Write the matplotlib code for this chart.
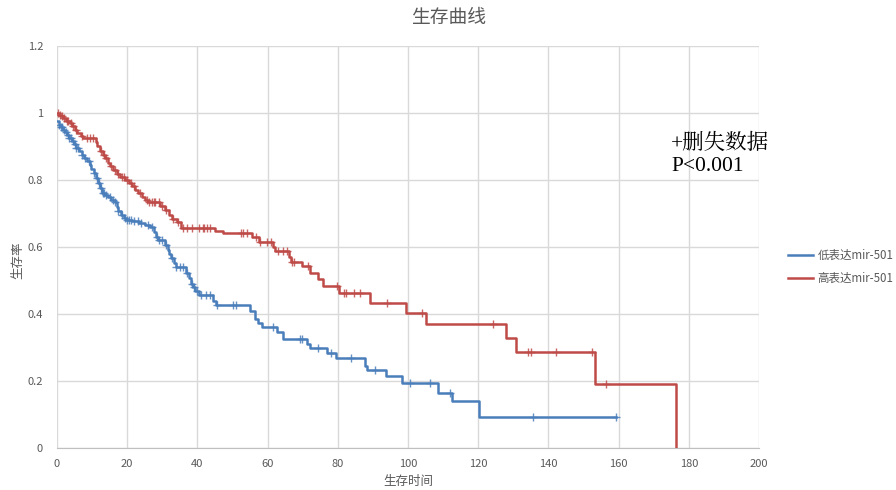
import numpy as np
import matplotlib
matplotlib.use("Agg")
import matplotlib.pyplot as plt

plt.rcParams['font.family'] = ['Noto Sans CJK SC', 'DejaVu Sans']

title = "生存曲线"
xlabel = "生存时间"
ylabel = "生存率"
series_names = ["低表达mir-501", "高表达mir-501"]
annotation = "+删失数据\nP<0.001"

x_ticks = [0, 20, 40, 60, 80, 100, 120, 140, 160, 180, 200]
y_ticks = [0, 0.2, 0.4, 0.6, 0.8, 1.0, 1.2]
y_tick_labels = ["0", "0.2", "0.4", "0.6", "0.8", "1", "1.2"]

# Low expression (blue) step curve: event times and survival after event
low_t = [0, 0.5, 1.0, 1.6, 2.2, 2.8, 3.5, 4.2, 4.8, 5.5, 6.2, 7.0, 7.8, 8.5, 9.3, 9.8,
         10.5, 11.2, 11.8, 12.3, 12.8, 13.6, 14.5, 15.5, 16.5, 17.0, 17.5, 18.2, 19.0,
         19.8, 21.5, 23.5, 25.0, 26.5, 27.6, 28.2, 28.8, 30.7, 31.5, 32.0, 32.5, 33.3,
         33.8, 36.7, 37.6, 38.2, 38.8, 39.4, 40.4, 44.5, 45.2, 55.0, 56.3, 57.3, 58.3,
         62.8, 64.3, 71.1, 72.2, 77.0, 79.4, 87.7, 88.2, 93.7, 98.2, 108.5, 112.6,
         120.1, 159.3]
low_s = [0.975, 0.965, 0.958, 0.950, 0.942, 0.933, 0.925, 0.915, 0.907, 0.897, 0.886,
         0.876, 0.866, 0.856, 0.846, 0.833, 0.821, 0.806, 0.792, 0.776, 0.762, 0.755,
         0.748, 0.740, 0.733, 0.720, 0.706, 0.697, 0.688, 0.682, 0.677, 0.672, 0.667,
         0.660, 0.646, 0.630, 0.620, 0.606, 0.590, 0.578, 0.566, 0.552, 0.540, 0.523,
         0.506, 0.490, 0.480, 0.470, 0.458, 0.440, 0.428, 0.408, 0.385, 0.372, 0.360,
         0.347, 0.325, 0.311, 0.298, 0.285, 0.270, 0.245, 0.234, 0.214, 0.195, 0.165,
         0.139, 0.093, 0.093]
low_censor = [0.5, 1, 1.5, 2, 2.5, 3, 3.5, 4, 4.5, 5, 5.5, 6, 7, 8, 9, 10.5, 11.5, 12,
              12.5, 13, 13.5, 14, 15, 16, 16.5, 17.5, 18.5, 19.5, 20, 20.5, 21, 22, 23,
              24, 26, 27, 28.5, 29, 30, 31, 32.8, 34, 35, 36, 37, 38.5, 39, 40, 41, 42.5,
              43.5, 45.5, 50, 51, 61.5, 69.2, 69.7, 74.5, 78, 83.7, 90.7, 100.7, 106.4,
              112, 135.7, 159.2]

# High expression (red) step curve
high_t = [0, 0.5, 1.0, 1.7, 2.5, 3.6, 4.3, 5.0, 5.8, 6.9, 7.5, 11.0, 11.5, 12.2, 13.0,
          13.7, 14.5, 15.1, 16.0, 17.0, 18.0, 19.4, 20.5, 21.3, 22.3, 23.2, 24.2, 25.1,
          26.0, 29.3, 30.8, 31.8, 32.7, 34.1, 35.2, 45.0, 47.4, 55.5, 57.5, 61.6, 62.1,
          66.2, 66.6, 69.7, 72.1, 74.5, 75.9, 80.4, 89.3, 99.4, 105.0, 128.0, 130.8,
          153.4, 176.3]
high_s = [1.0, 0.995, 0.990, 0.984, 0.977, 0.969, 0.960, 0.950, 0.940, 0.930, 0.925,
          0.912, 0.900, 0.888, 0.876, 0.865, 0.852, 0.842, 0.830, 0.817, 0.808, 0.800,
          0.790, 0.782, 0.770, 0.760, 0.750, 0.741, 0.734, 0.722, 0.710, 0.697, 0.684,
          0.675, 0.658, 0.649, 0.641, 0.630, 0.615, 0.600, 0.589, 0.571, 0.556, 0.543,
          0.523, 0.503, 0.484, 0.462, 0.434, 0.404, 0.370, 0.329, 0.288, 0.192, 0.0]
high_censor = [0.3, 0.8, 1.3, 2, 2.8, 3.2, 4, 4.6, 5.5, 7.2, 8.5, 9.5, 10.3, 12.5, 13.3,
               14, 15.5, 16.5, 17.5, 18.5, 19, 20, 21, 22, 23.7, 25.5, 26.3, 27, 27.5,
               28, 29, 30, 31, 33, 34.5, 35.8, 37, 38.5, 40.5, 41.5, 42, 42.6, 43.5,
               52.4, 53, 54, 56.7, 57.8, 59.7, 61.1, 63.1, 64.5, 65.4, 66.9, 67.4, 71.6,
               79.7, 81.9, 82.4, 84.7, 86.2, 94.1, 103.9, 124.3, 134.3, 135, 142.2,
               152.5, 156.5]

colors = ["#4a7ebb", "#be4b48"]
grey = "#595959"

fig = plt.figure(figsize=(8.96, 4.9), dpi=100)
ax = fig.add_axes([57 / 896, 42 / 490, 702 / 896, 402 / 490])

def censor_y(ts, ss, cs):
    ts = np.asarray(ts)
    ss = np.asarray(ss)
    idx = np.searchsorted(ts, cs, side='right') - 1
    return ss[idx]

for t, s, c, col, name in [(low_t, low_s, low_censor, colors[0], series_names[0]),
                            (high_t, high_s, high_censor, colors[1], series_names[1])]:
    ax.step(t, s, where='post', color=col, lw=1.8, label=name, zorder=3)
    ax.plot(c, censor_y(t, s, c), linestyle='none', marker='+', color=col,
            markersize=6, markeredgewidth=1.0, alpha=0.85, zorder=4)

ax.set_xlim(0, 200)
ax.set_ylim(0, 1.2)
ax.set_xticks(x_ticks)
ax.set_yticks(y_ticks)
ax.set_yticklabels(y_tick_labels)
ax.grid(True, color="#d9d9d9", lw=1.0, zorder=0)
ax.set_axisbelow(True)
for sp in ['top', 'right', 'left']:
    ax.spines[sp].set_visible(False)
ax.spines['bottom'].set_color("#bfbfbf")
ax.tick_params(axis='both', length=0, colors=grey, labelsize=8, pad=8)
ax.tick_params(axis='y', pad=10)

fig.text(449 / 896, 1 - 18 / 490, title, ha='center', va='center',
         fontsize=13.5, color=grey)
fig.text(408 / 896, 1 - 481 / 490, xlabel, ha='center', va='center', fontsize=9, color=grey)
fig.text(18 / 896, 1 - 260 / 490, ylabel, ha='center', va='center', fontsize=9,
         color=grey, rotation=90)

fig.text(671 / 896, 1 - 155 / 490, annotation, ha='left', va='center', fontsize=15.5,
         color="black", family=['Liberation Serif', 'Noto Serif CJK SC', 'Noto Sans CJK SC'],
         linespacing=1.2)

leg = fig.legend(loc='upper left', bbox_to_anchor=(788 / 896, 1 - 249 / 490),
                 frameon=False, fontsize=8.3, handlelength=2.2, handletextpad=0.35,
                 labelspacing=0.85, borderaxespad=0, borderpad=0)
for txt in leg.get_texts():
    txt.set_color(grey)

fig.savefig("out.png", dpi=100)
